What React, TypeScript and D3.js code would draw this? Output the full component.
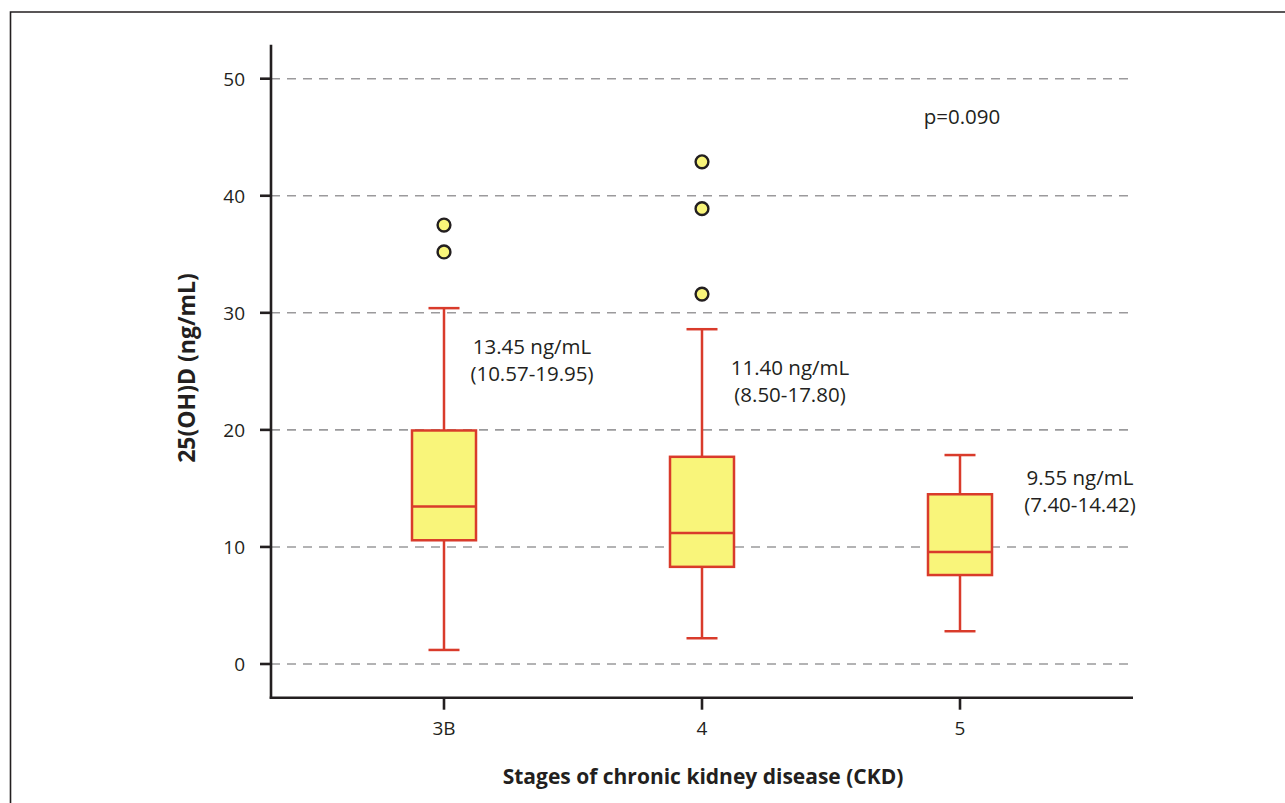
import React from "react";
import * as d3 from "d3";

const categories = ["3B", "4", "5"];
const q1 = [10.57, 8.3, 7.6];
const medians = [13.45, 11.2, 9.57];
const q3 = [19.95, 17.7, 14.5];
const whiskerLow = [1.2, 2.2, 2.8];
const whiskerHigh = [30.4, 28.6, 17.85];
const outliers = [[37.5, 35.2], [42.9, 38.9, 31.6], []];
const labelMain = ["13.45 ng/mL", "11.40 ng/mL", "9.55 ng/mL"];
const labelIqr = ["(10.57-19.95)", "(8.50-17.80)", "(7.40-14.42)"];
const labelY = [26.5, 24.7, 15.3];
const labelDx = [88, 88, 120];
const yTicks = [0, 10, 20, 30, 40, 50];
const pLabel = "p=0.090";

const W = 1285, H = 803;
const FONT = "'Open Sans', 'DejaVu Sans', sans-serif";
const RED = "#d93b2b";
const YEL = "#f9f57a";
const INK = "#231f20";

export default function App() {
  const x = d3.scalePoint<string>().domain(categories).range([444, 960]);
  const y = d3.scaleLinear().domain([0, 50]).range([664, 78.7]);
  const axisTop = y(52.9);
  const axisBottom = 697.7;
  const axisLeft = 271;
  const axisRight = 1133;
  const boxW = 64;
  const capW = 31;

  return (
    <svg width={W} height={H} style={{ position: "absolute", left: 0, top: 0, background: "#fff" }} fontFamily={FONT}>
      <rect x={0} y={0} width={W} height={H} fill="#fff" />
      <path d={`M${W + 5},12 H10.5 V${H + 5}`} fill="none" stroke={INK} strokeWidth={1.6} />
      {yTicks.map((t) => (
        <line key={"g" + t} x1={axisLeft} x2={axisRight} y1={y(t)} y2={y(t)} stroke="#9b9a9c" strokeWidth={1.6} strokeDasharray="9 7" />
      ))}
      <line x1={axisLeft} x2={axisLeft} y1={axisTop} y2={axisBottom + 1} stroke={INK} strokeWidth={2.6} />
      <line x1={axisLeft - 1.3} x2={axisRight} y1={axisBottom} y2={axisBottom} stroke={INK} strokeWidth={2.6} />
      {yTicks.map((t) => (
        <g key={"yt" + t}>
          <line x1={axisLeft - 11} x2={axisLeft} y1={y(t)} y2={y(t)} stroke={INK} strokeWidth={2.6} />
          <text x={245} y={y(t)} dy="0.36em" textAnchor="end" fontSize={19} fill={INK}>{t}</text>
        </g>
      ))}
      {categories.map((c) => (
        <g key={"xt" + c}>
          <line x1={x(c)} x2={x(c)} y1={axisBottom} y2={axisBottom + 12} stroke={INK} strokeWidth={2.6} />
          <text x={x(c)} y={735} textAnchor="middle" fontSize={19} fill={INK}>{c}</text>
        </g>
      ))}
      {categories.map((c, i) => {
        const cx = x(c) as number;
        return (
          <g key={"b" + c}>
            <line x1={cx} x2={cx} y1={y(whiskerHigh[i])} y2={y(q3[i])} stroke={RED} strokeWidth={2.5} />
            <line x1={cx} x2={cx} y1={y(q1[i])} y2={y(whiskerLow[i])} stroke={RED} strokeWidth={2.5} />
            <line x1={cx - capW / 2} x2={cx + capW / 2} y1={y(whiskerHigh[i])} y2={y(whiskerHigh[i])} stroke={RED} strokeWidth={2.5} />
            <line x1={cx - capW / 2} x2={cx + capW / 2} y1={y(whiskerLow[i])} y2={y(whiskerLow[i])} stroke={RED} strokeWidth={2.5} />
            <rect x={cx - boxW / 2} y={y(q3[i])} width={boxW} height={y(q1[i]) - y(q3[i])} fill={YEL} stroke={RED} strokeWidth={2.5} />
            <line x1={cx - boxW / 2} x2={cx + boxW / 2} y1={y(medians[i])} y2={y(medians[i])} stroke={RED} strokeWidth={2.5} />
            {outliers[i].map((o, j) => (
              <circle key={j} cx={cx} cy={y(o)} r={6.4} fill={YEL} stroke={INK} strokeWidth={2.4} />
            ))}
            <text textAnchor="middle" fontSize={20.5} fill={INK} y={y(labelY[i])}>
              <tspan x={cx + labelDx[i]}>{labelMain[i]}</tspan>
              <tspan x={cx + labelDx[i]} dy="27">{labelIqr[i]}</tspan>
            </text>
          </g>
        );
      })}
      <text x={962} y={124} textAnchor="middle" fontSize={20.5} fill={INK}>{pLabel}</text>
      <text transform={`translate(195,368) rotate(-90)`} textAnchor="middle" fontSize={23} fontWeight="bold" fill={INK}>25(OH)D (ng/mL)</text>
      <text x={703} y={784} textAnchor="middle" fontSize={21} fontWeight="bold" fill={INK}>Stages of chronic kidney disease (CKD)</text>
    </svg>
  );
}
